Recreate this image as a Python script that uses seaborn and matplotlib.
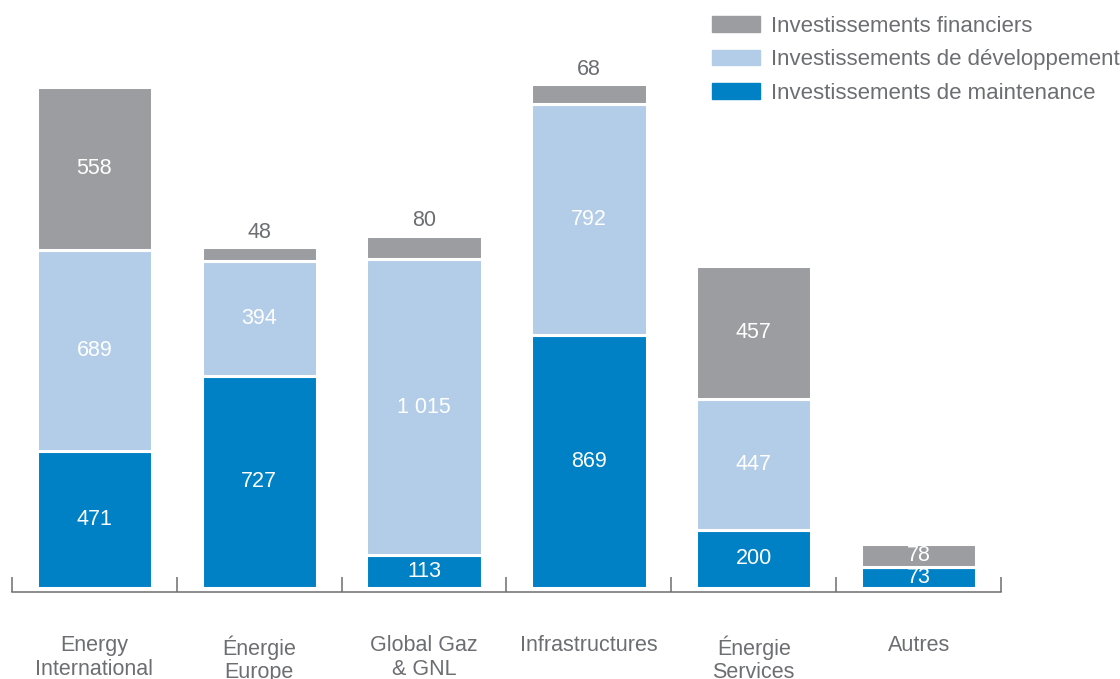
import matplotlib
matplotlib.use("Agg")
import matplotlib.pyplot as plt
import matplotlib.patches as mpatches
import seaborn as sns
import pandas as pd
import numpy as np

categories = ["Energy\nInternational", "Énergie\nEurope", "Global Gaz\n& GNL",
              "Infrastructures", "Énergie\nServices", "Autres"]
maintenance = [471, 727, 113, 869, 200, 73]
developpement = [689, 394, 1015, 792, 447, 0]
financiers = [558, 48, 80, 68, 457, 78]
# gray values written above the bar instead of inside
label_above = [False, True, True, True, False, False]

series_names = ["Investissements de maintenance", "Investissements de développement",
                "Investissements financiers"]
colors = ["#0081c6", "#b3cde8", "#9c9da1"]
text_gray = "#6d6e71"


def fmt(v):
    return f"{v:,}".replace(",", " ")


sns.set_style("white")
plt.rcParams["font.family"] = ["Liberation Sans", "DejaVu Sans"]

df = pd.DataFrame({"cat": categories, "maint": maintenance,
                   "dev": developpement, "fin": financiers})

fig = plt.figure(figsize=(11.2, 6.79), dpi=100)
ax = fig.add_axes([12 / 1120, 91 / 679, 989 / 1120, 588 / 679])

bottom = np.zeros(len(df))
containers = []
for col, c in zip(["maint", "dev", "fin"], colors):
    sns.barplot(data=df, x="cat", y=col, bottom=bottom, color=c, width=0.7,
                edgecolor="white", linewidth=2.2, saturation=1, ax=ax)
    containers.append(ax.containers[-1])
    bottom = bottom + df[col].values

for cont, col in zip(containers, ["maint", "dev", "fin"]):
    labs = []
    for i, v in enumerate(df[col]):
        if v == 0 or (col == "fin" and label_above[i]):
            labs.append("")
        else:
            labs.append(fmt(v))
    ax.bar_label(cont, labels=labs, label_type="center", color="white", fontsize=15.5)

top_labs = [fmt(v) if label_above[i] else "" for i, v in enumerate(financiers)]
ax.bar_label(containers[2], labels=top_labs, padding=3, color=text_gray, fontsize=15.5)

ax.set_xlim(-0.5, 5.5)
ax.set_ylim(0, 2016)
ax.set_yticks([])
ax.set_xlabel("")
ax.set_ylabel("")
for s in ["top", "left", "right"]:
    ax.spines[s].set_visible(False)
ax.spines["bottom"].set_position(("outward", 3))
ax.spines["bottom"].set_color(text_gray)
ax.spines["bottom"].set_linewidth(1.1)

ax.set_xticks(range(len(categories)))
ax.set_xticklabels(categories, fontsize=15.5, color=text_gray, linespacing=1.15)
ax.tick_params(axis="x", which="major", length=0, pad=31)
ax.set_xticks(np.arange(-0.5, len(categories)), minor=True)
ax.tick_params(axis="x", which="minor", bottom=True, direction="in", length=11,
               width=1.1, color=text_gray)

handles = [mpatches.Patch(color=c, label=n) for c, n in zip(colors, series_names)]
handles = handles[::-1]
fig.legend(handles=handles, loc="upper left", bbox_to_anchor=(703 / 1120, 0.99),
           frameon=False, fontsize=16, labelcolor=text_gray, handlelength=2.15,
           handleheight=0.7, handletextpad=0.5, labelspacing=0.56,
           borderaxespad=0)

fig.savefig("out.png", dpi=100)
